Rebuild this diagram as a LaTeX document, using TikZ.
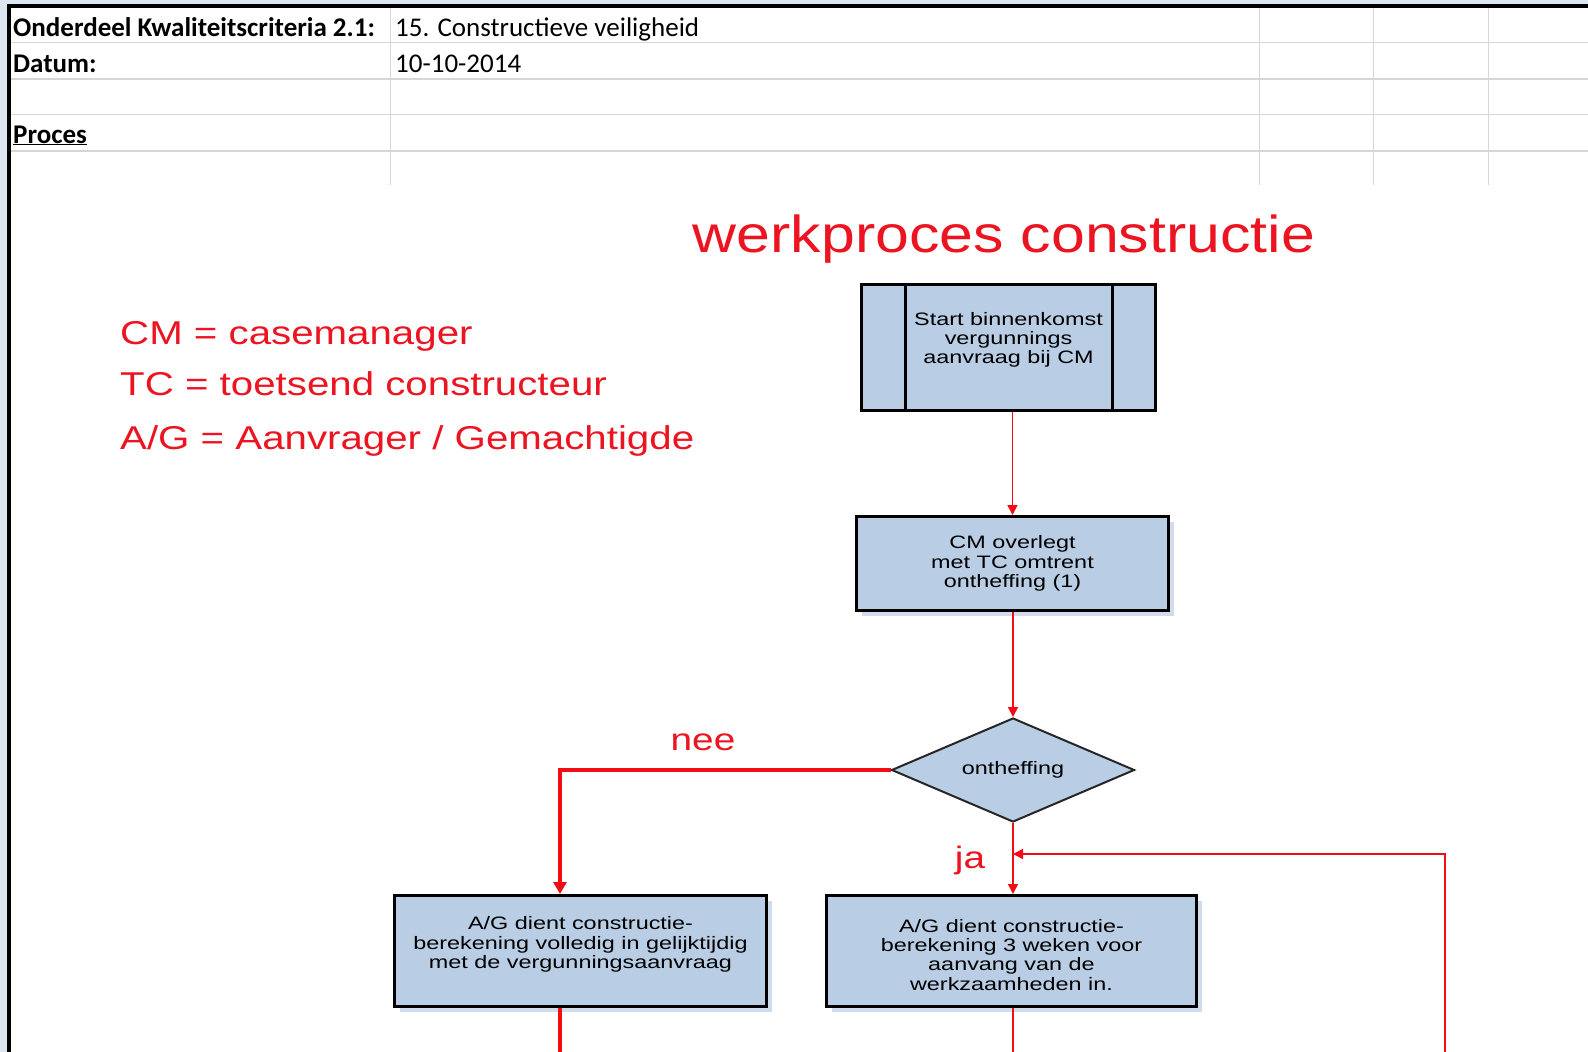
\documentclass[tikz,border=0pt]{standalone}
\usepackage{fontspec}
\setmainfont{Liberation Sans}
\newfontfamily\sheetfont{Carlito}
\newfontfamily\titlefont[FakeStretch=1.17]{Liberation Sans}
\newfontfamily\legendfont[FakeStretch=1.22]{Liberation Sans}
\newfontfamily\labelfont[FakeStretch=1.25]{Liberation Sans}
\newfontfamily\boxfont[FakeStretch=1.3]{Liberation Sans}
\usetikzlibrary{shapes.geometric,arrows.meta,shadows}

\definecolor{frameblue}{RGB}{220,230,241}
\definecolor{gridgray}{RGB}{214,214,214}
\definecolor{boxfill}{RGB}{185,205,228}
\definecolor{shadowblue}{RGB}{208,220,237}
\definecolor{flowred}{RGB}{242,12,22}
\definecolor{textred}{RGB}{236,20,32}

% centred block of lines, moved up (positive) or down (negative) inside its box
\newcommand{\boxlines}[2]{\raisebox{#1}[0pt][0pt]{\begin{tabular}{@{}c@{}}#2\end{tabular}}}

\begin{document}
\begin{tikzpicture}[x=1pt,y=-1pt,
  sheettext/.style={anchor=base west,inner sep=0pt,font=\sheetfont\fontsize{27}{30}\selectfont},
  sheetbold/.style={sheettext,font=\sheetfont\bfseries\fontsize{27}{30}\selectfont},
  gridline/.style={draw=gridgray,line width=1.6pt},
  gridcol/.style={draw=gridgray,line width=1pt},
  legendtext/.style={anchor=base west,inner sep=0pt,text=textred,font=\legendfont\fontsize{33}{38}\selectfont},
  flowbox/.style={draw=black,line width=3pt,fill=boxfill,inner sep=0pt,align=center,
    font=\boxfont\fontsize{18}{19.3}\selectfont},
  shadowed/.style={general shadow={fill=shadowblue,shadow xshift=5pt,shadow yshift=-5pt}},
  decision/.style={diamond,aspect=2.34,draw=black!85,line width=2pt,fill=boxfill,inner sep=0pt,
    font=\boxfont\fontsize{18}{19.3}\selectfont},
  thinflow/.style={draw=flowred,line width=1.6pt},
  thinarrow/.style={thinflow,-{Triangle[length=10pt,width=10pt]}},
  thickflow/.style={draw=flowred,line width=3.6pt},
  thickarrow/.style={thickflow,-{Triangle[length=12pt,width=13pt]}},
  flowlabel/.style={anchor=base,inner sep=0pt,text=textred,font=\labelfont\fontsize{31}{34}\selectfont}
]
\useasboundingbox (0,0) rectangle (1588,1052);

% sheet frame
\fill[frameblue] (0,0) rectangle (1588,1052);
\fill[white] (11,8) rectangle (1588,1052);
\draw[line width=4pt] (9,1052) -- (9,6) -- (1588,6);

% spreadsheet grid
\foreach \gy in {42.5,79,114.5,151} \draw[gridline] (11,\gy) -- (1588,\gy);
\foreach \gx in {390,1259,1373,1488} \draw[gridcol] (\gx,8) -- (\gx,185);

% header cells
\node[sheetbold] (partlbl) at (13,36) {Onderdeel Kwaliteitscriteria 2.1:};
\node[sheettext] (partval) at (395,36) {15. Constructieve veiligheid};
\node[sheetbold] (datelbl) at (13,72) {Datum:};
\node[sheettext] (dateval) at (395,72) {10-10-2014};
\node[sheetbold] (proclbl) at (13,143) {\underline{Proces}};

% title and legend
\node[anchor=base,inner sep=0pt,text=textred,font=\titlefont\fontsize{52}{56}\selectfont] (title) at (1004,252) {werkproces constructie};
\node[legendtext] (legcm) at (120,344) {CM = casemanager};
\node[legendtext] (legtc) at (120,395) {TC = toetsend constructeur};
\node[legendtext] (legag) at (120,449) {A/G = Aanvrager / Gemachtigde};

% flow chart
\node[flowbox,minimum width=294pt,minimum height=126pt] (start) at (1008.5,347.5)
  {\boxlines{2.5pt}{Start binnenkomst\\vergunnings\\aanvraag bij CM}};
\draw[line width=3pt] ([xshift=45pt]start.north west) -- ([xshift=45pt]start.south west);
\draw[line width=3pt] ([xshift=-45pt]start.north east) -- ([xshift=-45pt]start.south east);

\node[flowbox,shadowed,minimum width=312pt,minimum height=94pt] (overleg) at (1012.5,563.5)
  {\boxlines{-5pt}{CM overlegt\\met TC omtrent\\ontheffing (1)}};

\node[decision,minimum width=243pt,minimum height=104pt] (check) at (1013,770) {ontheffing};

\node[flowbox,shadowed,minimum width=372pt,minimum height=111pt] (direct) at (580.5,951)
  {\boxlines{1.5pt}{A/G dient constructie-\\berekening volledig in gelijktijdig\\met de vergunningsaanvraag}};
\node[flowbox,shadowed,minimum width=370pt,minimum height=111pt] (later) at (1011.5,951)
  {\boxlines{-10.5pt}{A/G dient constructie-\\berekening 3 weken voor\\aanvang van de\\werkzaamheden in.}};

% connectors
\coordinate (neecorner) at (560,770);
\coordinate (loopbottom) at (1445,1052);
\coordinate (looptop) at (1445,854);
\coordinate (directout) at (560,1052);
\coordinate (laterout) at (1013,1052);

\draw[thinarrow] (start.south -| overleg.north) -- (overleg.north);
\draw[thinarrow] (overleg.south -| check.north) -- (check.north);
\draw[thickarrow] (check.west) -- (neecorner) -- (neecorner |- direct.north);
\draw[thinarrow] (check.south) -- (check.south |- later.north);
\draw[thinarrow] (loopbottom) -- (looptop) -- (check.south |- looptop);
\draw[thickflow] (direct.south -| directout) -- (directout);
\draw[thinflow] (later.south -| laterout) -- (laterout);

\node[flowlabel] (neelbl) at (703,750) {nee};
\node[flowlabel] (jalbl) at (970,868) {ja};
\end{tikzpicture}
\end{document}
